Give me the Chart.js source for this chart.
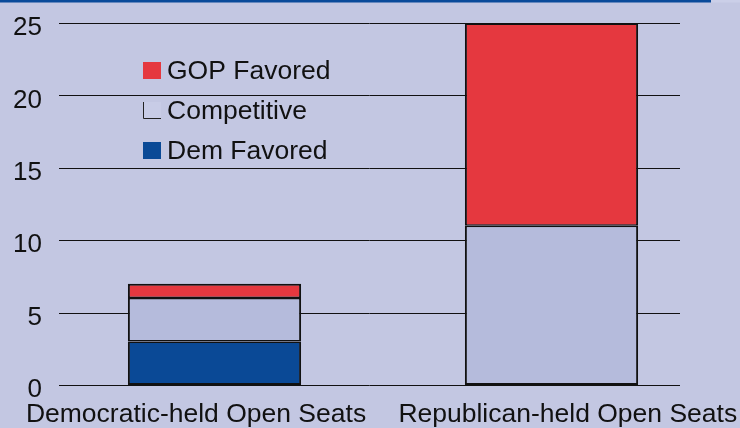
<!DOCTYPE html>
<html>
<head>
<meta charset="utf-8">
<script src="https://cdn.jsdelivr.net/npm/chart.js@4.4.1/dist/chart.umd.min.js"></script>
<style>
  html, body { margin: 0; padding: 0; background: #c3c7e2; }
  #wrap { width: 740px; height: 428px; position: relative; }
  canvas { display: block; }
</style>
</head>
<body>
<div id="wrap"><canvas id="c" width="740" height="428"></canvas></div>
<script>
// ---- data ----
const categories = ['Democratic-held Open Seats', 'Republican-held Open Seats'];
const demFavored = [3, 0];
const competitive = [3, 11];
const gopFavored = [1, 14];
const yTickValues = [0, 5, 10, 15, 20, 25];
const seriesNames = ['Dem Favored', 'Competitive', 'GOP Favored'];

// ---- styles ----
const FONT = "'Liberation Sans', Arial, sans-serif";
const BG = '#c3c7e2';
const RED = '#e5383f';
const COMP = '#b5bbdc';
const BLUE = '#0a4996';
const INK = '#111111';

function segBorder(ctx) {
  const i = ctx.dataIndex;
  const ds = ctx.chart.data.datasets;
  const nz = [];
  ds.forEach((d, k) => { if (d.data[i] > 0) nz.push(k); });
  const isBottom = nz[0] === ctx.datasetIndex;
  const isTop = nz[nz.length - 1] === ctx.datasetIndex;
  return { left: 2, right: 2, top: isTop ? 2 : 1.5, bottom: isBottom ? 2 : 1.5 };
}

const bgPlugin = {
  id: 'bg',
  beforeDraw(chart) {
    const c = chart.ctx;
    c.save();
    c.fillStyle = BG;
    c.fillRect(0, 0, chart.width, chart.height);
    c.fillStyle = '#0a4a9a';
    c.fillRect(0, 0, 711, 2.5);
    c.fillStyle = '#cbcfe8';
    c.fillRect(711, 0, chart.width - 711, 2.5);
    c.restore();
  },
  beforeDatasetsDraw(chart) {
    const c = chart.ctx;
    const y = chart.scales.y;
    c.save();
    c.strokeStyle = INK;
    c.lineWidth = 1;
    yTickValues.forEach(v => {
      const py = Math.round(y.getPixelForValue(v)) + 0.5;
      c.beginPath();
      c.moveTo(59, py);
      c.lineTo(680, py);
      c.stroke();
    });
    c.restore();
  },
  afterDraw(chart) {
    const c = chart.ctx;
    const ds = chart.data.datasets;
    const order = [2, 1, 0];
    c.save();
    c.font = '26.5px ' + FONT;
    c.textBaseline = 'middle';
    c.textAlign = 'left';
    order.forEach((k, j) => {
      const cy = 71 + j * 40;
      const sx = 143, sy = cy - 9;
      c.fillStyle = ds[k].backgroundColor;
      if (k === 1) c.fillStyle = '#c8cce6';
      c.fillRect(sx, sy, 18, 17);
      if (k === 1) {
        c.strokeStyle = '#222';
        c.lineWidth = 1;
        c.beginPath();
        c.moveTo(sx + 0.5, sy);
        c.lineTo(sx + 0.5, sy + 16.5);
        c.lineTo(sx + 18, sy + 16.5);
        c.stroke();
      }
      c.fillStyle = INK;
      c.fillText(ds[k].label, 167, cy + 1);
    });
    c.restore();
  }
};

new Chart(document.getElementById('c'), {
  type: 'bar',
  data: {
    labels: categories,
    datasets: [
      { label: seriesNames[0], data: demFavored, backgroundColor: BLUE },
      { label: seriesNames[1], data: competitive, backgroundColor: COMP },
      { label: seriesNames[2], data: gopFavored, backgroundColor: RED }
    ].map(d => Object.assign(d, {
      borderColor: INK,
      borderWidth: segBorder,
      borderSkipped: false,
      categoryPercentage: 1,
      barPercentage: 0.514
    }))
  },
  options: {
    responsive: false,
    devicePixelRatio: 1,
    animation: false,
    layout: { padding: { left: 0, right: 20, top: 23, bottom: 0 } },
    plugins: { legend: { display: false }, tooltip: { enabled: false } },
    scales: {
      x: {
        type: 'category',
        stacked: true,
        display: false
      },
      x2: {
        type: 'linear',
        position: 'bottom',
        offset: false,
        bounds: 'data',
        min: -0.4035,
        max: 1.4094,
        grid: { display: false, drawTicks: false, offset: false },
        border: { display: false },
        afterBuildTicks(scale) { scale.ticks = [{ value: 0 }, { value: 1 }]; },
        afterFit(scale) {
          scale.height = 43;
          scale.paddingLeft = 0;
          scale.paddingRight = 0;
        },
        ticks: {
          autoSkip: false,
          maxRotation: 0,
          padding: 14,
          color: INK,
          font: { family: FONT, size: 26.5 },
          callback: (v) => categories[v] !== undefined ? categories[v] : ''
        }
      },
      y: {
        stacked: true,
        min: 0,
        max: 25,
        grid: { display: false, drawTicks: false },
        border: { display: false },
        afterBuildTicks(scale) { scale.ticks = yTickValues.map(v => ({ value: v })); },
        afterFit(scale) {
          scale.width = 46;
          scale.paddingTop = 0;
          scale.paddingBottom = 0;
        },
        ticks: {
          padding: 4,
          labelOffset: 5,
          color: INK,
          font: { family: FONT, size: 26 }
        }
      }
    }
  },
  plugins: [bgPlugin]
});
</script>
</body>
</html>
